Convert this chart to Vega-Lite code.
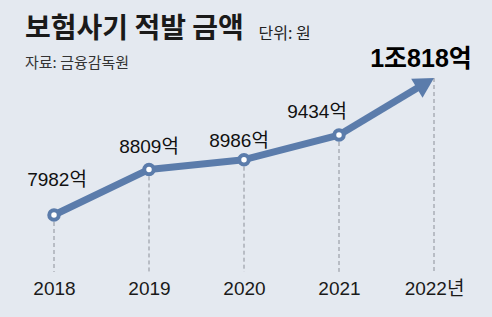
{
  "$schema": "https://vega.github.io/schema/vega-lite/v6.json",
  "width": 475,
  "height": 197,
  "autosize": {"type": "none"},
  "padding": {"left": 6.5, "top": 78, "right": 10.5, "bottom": 42},
  "background": "#e4e9f0",
  "title": {
    "text": "보험사기 적발 금액",
    "subtitle": "자료: 금융감독원",
    "anchor": "start",
    "frame": "group",
    "dx": 18.5,
    "offset": -46,
    "font": "Noto Sans CJK KR",
    "fontSize": 28,
    "fontWeight": "bold",
    "color": "#1a1a1a",
    "subtitleFont": "Noto Sans CJK KR",
    "subtitleFontSize": 15,
    "subtitleColor": "#333333",
    "subtitlePadding": 12
  },
  "config": {"view": {"stroke": null}},
  "data": {
    "values": [
      {"year": 2018, "value": 7982, "label": "7982억"},
      {"year": 2019, "value": 8809, "label": "8809억"},
      {"year": 2020, "value": 8986, "label": "8986억"},
      {"year": 2021, "value": 9434, "label": "9434억"},
      {"year": 2022, "value": 10818, "label": "1조818억"}
    ]
  },
  "encoding": {
    "x": {
      "field": "year",
      "type": "ordinal",
      "scale": {"type": "point", "padding": 0.5},
      "axis": {
        "title": null,
        "domain": false,
        "ticks": false,
        "grid": false,
        "labelAngle": 0,
        "labelFont": "Liberation Sans, Noto Sans CJK KR, sans-serif",
        "labelFontSize": 19,
        "labelColor": "#1a1a1a",
        "labelPadding": 4,
        "labelExpr": "datum.value == 2022 ? '2022년' : datum.label"
      }
    },
    "y": {
      "field": "value",
      "type": "quantitative",
      "scale": {"domain": [6893, 10469], "clamp": true, "zero": false, "nice": false},
      "axis": {
        "title": "단위: 원",
        "titleAngle": 0,
        "titleX": 251.5,
        "titleY": -40,
        "titleAlign": "left",
        "titleBaseline": "alphabetic",
        "titleFont": "Noto Sans CJK KR",
        "titleFontSize": 16,
        "titleFontWeight": "normal",
        "titleColor": "#222222",
        "labels": false,
        "ticks": false,
        "domain": false,
        "grid": false
      }
    }
  },
  "layer": [
    {
      "mark": {"type": "rule", "strokeDash": [4, 3], "color": "#8c9099", "strokeWidth": 1},
      "encoding": {"y2": {"datum": 6950}}
    },
    {
      "transform": [{"filter": "datum.year <= 2021"}],
      "mark": {"type": "line", "color": "#5b7cab", "strokeWidth": 7, "strokeJoin": "round"}
    },
    {
      "transform": [
        {"window": [{"op": "lead", "field": "year", "as": "nextYear"}, {"op": "lead", "field": "value", "as": "nextValue"}], "sort": [{"field": "year"}]},
        {"filter": "datum.year == 2021"}
      ],
      "mark": {"type": "rule", "color": "#5b7cab", "strokeWidth": 7, "x2Offset": -10, "y2Offset": 6},
      "encoding": {"x2": {"field": "nextYear"}, "y2": {"field": "nextValue"}}
    },
    {
      "transform": [{"filter": "datum.year == 2022"}],
      "mark": {"type": "point", "shape": "M0,0 L0.55,1 L-0.55,1 Z", "size": 1600, "angle": 59, "filled": true, "color": "#5b7cab", "opacity": 1}
    },
    {
      "transform": [{"filter": "datum.year <= 2021"}],
      "mark": {"type": "point", "shape": "circle", "size": 90, "filled": true, "fill": "white", "stroke": "#5b7cab", "strokeWidth": 4, "opacity": 1}
    },
    {
      "transform": [{"filter": "datum.year == 2018"}],
      "mark": {"type": "text", "font": "Liberation Sans, Noto Sans CJK KR, sans-serif", "fontSize": 19, "color": "#111111", "baseline": "middle", "dx": 3, "dy": -35},
      "encoding": {"text": {"field": "label"}}
    },
    {
      "transform": [{"filter": "datum.year == 2019"}],
      "mark": {"type": "text", "font": "Liberation Sans, Noto Sans CJK KR, sans-serif", "fontSize": 19, "color": "#111111", "baseline": "middle", "dx": 0, "dy": -22},
      "encoding": {"text": {"field": "label"}}
    },
    {
      "transform": [{"filter": "datum.year == 2020"}],
      "mark": {"type": "text", "font": "Liberation Sans, Noto Sans CJK KR, sans-serif", "fontSize": 19, "color": "#111111", "baseline": "middle", "dx": -5, "dy": -19},
      "encoding": {"text": {"field": "label"}}
    },
    {
      "transform": [{"filter": "datum.year == 2021"}],
      "mark": {"type": "text", "font": "Liberation Sans, Noto Sans CJK KR, sans-serif", "fontSize": 19, "color": "#111111", "baseline": "middle", "dx": -22, "dy": -23},
      "encoding": {"text": {"field": "label"}}
    },
    {
      "transform": [{"filter": "datum.year == 2022"}],
      "mark": {"type": "text", "font": "Liberation Sans, Noto Sans CJK KR, sans-serif", "fontSize": 25, "fontWeight": "bold", "color": "#000000", "baseline": "middle", "dx": -13, "dy": -19},
      "encoding": {"text": {"field": "label"}}
    }
  ]
}
